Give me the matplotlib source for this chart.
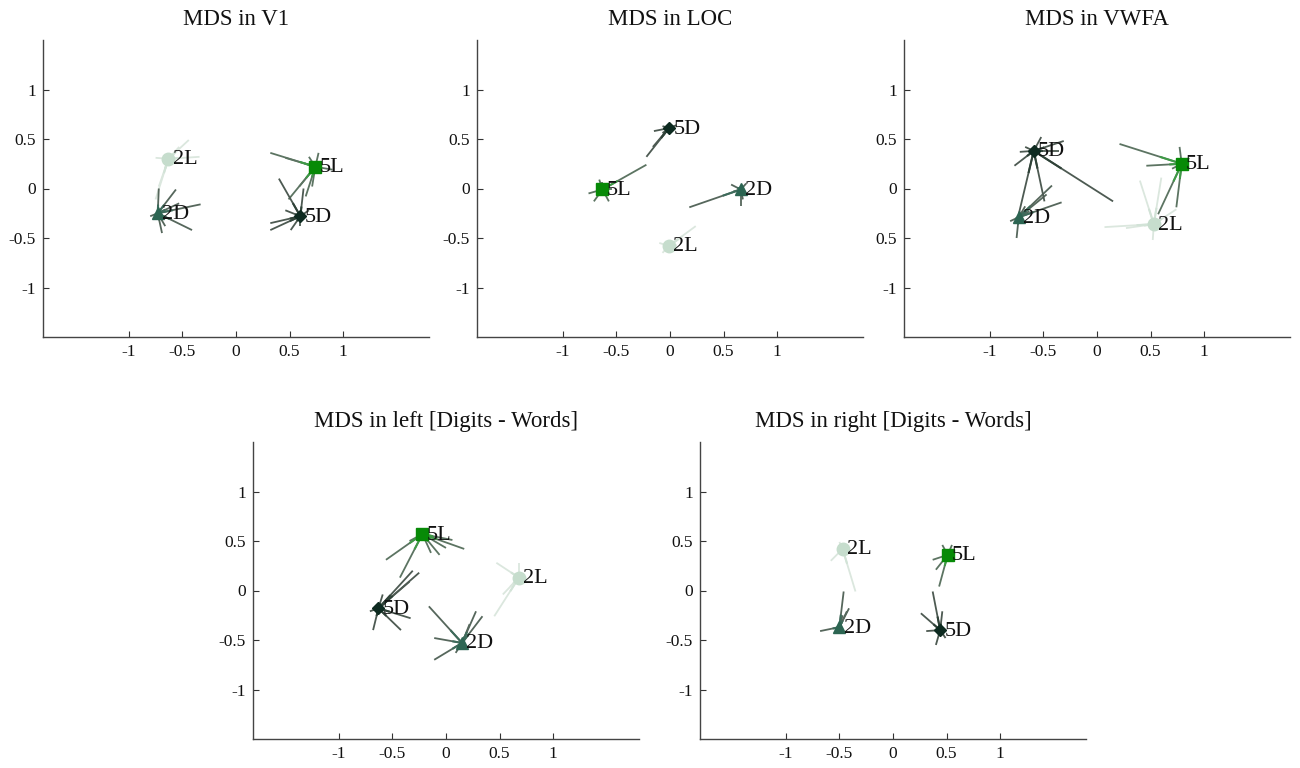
import numpy as np
import matplotlib.pyplot as plt

plt.rcParams['font.family'] = ['Liberation Serif', 'DejaVu Serif']
plt.rcParams['axes.unicode_minus'] = False

# --- data ---
CONDITIONS = ['2L', '5L', '2D', '5D']
TITLES = ['MDS in V1', 'MDS in LOC', 'MDS in VWFA',
          'MDS in left [Digits - Words]', 'MDS in right [Digits - Words]']
TICKS = [-1, -0.5, 0, 0.5, 1]
XTICKLABELS = ['-1', '-0.5', '0', '0.5', '1']
YTICKLABELS = ['-1', '-0.5', '0', '0.5', '1']
YTICKLABELS_VWFA = ['-1', '0.5', '0', '0.5', '1']

# group centroids (x, y), order as CONDITIONS
V1_CENTERS = [(-0.63, 0.30), (0.74, 0.22), (-0.73, -0.25), (0.60, -0.28)]
LOC_CENTERS = [(-0.01, -0.58), (-0.63, -0.01), (0.66, -0.01), (-0.01, 0.61)]
VWFA_CENTERS = [(0.53, -0.36), (0.79, 0.25), (-0.73, -0.29), (-0.59, 0.38)]
LEFT_CENTERS = [(0.68, 0.13), (-0.22, 0.57), (0.15, -0.53), (-0.63, -0.18)]
RIGHT_CENTERS = [(-0.47, 0.42), (0.51, 0.36), (-0.50, -0.37), (0.44, -0.40)]

# individual subject positions (spoke ends), one list per condition
V1_SPOKES = [
    [(-0.44, 0.49), (-0.34, 0.32), (-0.72, 0.02), (-0.75, -0.11), (-0.53, 0.42), (-0.75, 0.31)],
    [(0.32, 0.36), (0.46, 0.31), (0.77, 0.36), (0.68, 0.32), (0.71, 0.02), (0.59, 0.02),
     (0.49, -0.11), (0.65, -0.08), (0.90, 0.19)],
    [(-0.72, 0.0), (-0.56, -0.01), (-0.33, -0.16), (-0.41, -0.42), (-0.69, -0.45),
     (-0.80, -0.28), (-0.53, -0.15), (-0.66, -0.38)],
    [(0.40, 0.10), (0.63, 0.0), (0.32, -0.35), (0.32, -0.42), (0.46, -0.22), (0.60, -0.38),
     (0.51, -0.42), (0.68, -0.22)],
]
LOC_SPOKES = [
    [(0.24, -0.38), (0.12, -0.48), (-0.10, -0.55), (-0.07, -0.65), (0.06, -0.57)],
    [(-0.22, 0.24), (-0.66, 0.09), (-0.71, -0.13), (-0.57, -0.13), (-0.63, 0.07),
     (-0.76, -0.05), (-0.54, -0.01)],
    [(0.18, -0.19), (0.66, -0.18), (0.57, 0.04), (0.71, 0.05), (0.59, -0.03), (0.68, -0.11)],
    [(-0.22, 0.32), (-0.16, 0.42), (-0.10, 0.49), (-0.15, 0.58), (-0.07, 0.63), (0.06, 0.64),
     (-0.07, 0.56)],
]
VWFA_SPOKES = [
    [(0.07, -0.39), (0.40, 0.08), (0.60, 0.11), (0.52, -0.52), (0.74, -0.21), (0.27, -0.40)],
    [(0.21, 0.45), (0.46, 0.23), (0.77, 0.42), (0.74, -0.19), (0.57, -0.26), (0.86, 0.31),
     (0.70, 0.20)],
    [(-0.42, 0.03), (-0.33, -0.14), (-0.47, -0.06), (-0.75, -0.50), (-0.81, -0.33),
     (-0.63, -0.23), (-0.67, -0.18)],
    [(0.15, -0.13), (-0.73, -0.26), (-0.49, -0.13), (-0.77, 0.23), (-0.67, 0.42),
     (-0.52, 0.52), (-0.35, 0.38), (-0.31, 0.48), (-0.72, 0.37)],
]
LEFT_SPOKES = [
    [(0.47, 0.28), (0.45, -0.26), (0.68, 0.28), (0.53, -0.04), (0.60, 0.04)],
    [(-0.56, 0.31), (-0.43, 0.13), (-0.06, 0.36), (0.17, 0.42), (-0.14, 0.38), (0.06, 0.51),
     (-0.34, 0.50), (0.0, 0.43)],
    [(-0.16, -0.16), (0.28, -0.21), (0.34, -0.26), (-0.11, -0.70), (-0.11, -0.48),
     (0.09, -0.63), (0.22, -0.34)],
    [(-0.25, 0.18), (-0.31, 0.20), (-0.59, -0.04), (-0.68, -0.40), (-0.42, -0.40),
     (-0.33, -0.28), (-0.34, 0.09), (-0.71, -0.21)],
]
RIGHT_SPOKES = [
    [(-0.35, -0.01), (-0.58, 0.30), (-0.50, 0.49), (-0.41, 0.44)],
    [(0.43, 0.04), (0.40, 0.21), (0.46, 0.46), (0.55, 0.46), (0.37, 0.31)],
    [(-0.46, -0.01), (-0.68, -0.41), (-0.41, -0.18), (-0.43, -0.21), (-0.47, -0.25),
     (-0.54, -0.40)],
    [(0.37, -0.01), (0.26, -0.23), (0.46, -0.21), (0.40, -0.55), (0.31, -0.41), (0.49, -0.48)],
]

# --- style ---
MARKERS = {'2L': 'o', '5L': 's', '2D': '^', '5D': 'D'}
MARKER_COLORS = {'2L': '#c6ddcd', '5L': '#078a07', '2D': '#2c6552', '5D': '#0d2a20'}
MARKER_SIZES = {'2L': 9, '5L': 8, '2D': 8, '5D': 6}
SPOKE_COLORS = {'2L': '#dbe7de', '5L': '#5c7462', '2D': '#56675c', '5D': '#4d5a52'}
# colour of the inner part of each spoke (fades towards grey further out)
INNER_COLORS = {'2L': '#d2e3d7', '5L': '#3f9a47', '2D': '#3d6b5b', '5D': '#2f4238'}

panels = [
    (TITLES[0], V1_CENTERS, V1_SPOKES, YTICKLABELS, (43, 337)),
    (TITLES[1], LOC_CENTERS, LOC_SPOKES, YTICKLABELS, (477, 337)),
    (TITLES[2], VWFA_CENTERS, VWFA_SPOKES, YTICKLABELS_VWFA, (904, 337)),
    (TITLES[3], LEFT_CENTERS, LEFT_SPOKES, YTICKLABELS, (253, 739)),
    (TITLES[4], RIGHT_CENTERS, RIGHT_SPOKES, YTICKLABELS, (700, 739)),
]

W, H = 1300, 768
fig = plt.figure(figsize=(13, 7.68), dpi=100)

for title, centers, spokes, ylabels, (left_px, bottom_px) in panels:
    ax = fig.add_axes([left_px / W, (H - bottom_px) / H, 386 / W, 297 / H])
    for cond, (cx, cy), ends in zip(CONDITIONS, centers, spokes):
        z = 2 if cond == '2L' else 3
        for ex, ey in ends:
            ax.plot([cx, ex], [cy, ey], color=SPOKE_COLORS[cond], lw=1.3,
                    solid_capstyle='butt', zorder=z)
            mx, my = cx + 0.35 * (ex - cx), cy + 0.35 * (ey - cy)
            ax.plot([cx, mx], [cy, my], color=INNER_COLORS[cond], lw=1.5,
                    solid_capstyle='butt', zorder=z + 0.1)
    for cond, (cx, cy) in zip(CONDITIONS, centers):
        ax.plot(cx, cy, marker=MARKERS[cond], color=MARKER_COLORS[cond],
                markersize=MARKER_SIZES[cond], linestyle='none', zorder=5)
        ax.text(cx + 0.04, cy - 0.01, cond, fontsize=16, va='center', ha='left',
                color='#111111', zorder=6)

    ax.set_xlim(-1.8, 1.8)
    ax.set_ylim(-1.5, 1.5)
    ax.set_xticks(TICKS)
    ax.set_xticklabels(XTICKLABELS)
    ax.set_yticks(TICKS)
    ax.set_yticklabels(ylabels)
    ax.tick_params(direction='in', length=4, width=0.8, labelsize=12.5,
                   colors='#333333', labelcolor='#111111', pad=5)
    for side in ['top', 'right']:
        ax.spines[side].set_visible(False)
    for side in ['left', 'bottom']:
        ax.spines[side].set_color('#444444')
        ax.spines[side].set_linewidth(1.0)
    ax.set_title(title, fontsize=16.5, pad=11, color='#111111')

fig.savefig('out.png', dpi=100)
